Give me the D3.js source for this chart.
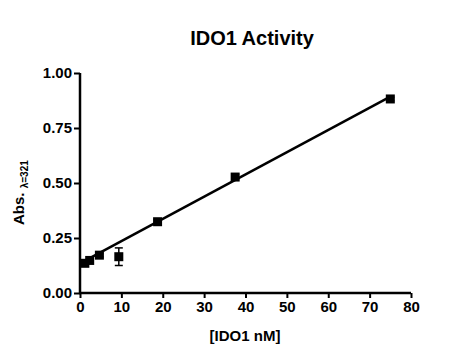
<!DOCTYPE html>
<html>
<head>
<meta charset="utf-8">
<script src="https://cdn.jsdelivr.net/npm/d3@7"></script>
<style>
  html, body { margin: 0; padding: 0; background: #fff; }
  text { font-family: "Liberation Sans", Arial, Helvetica, sans-serif; font-weight: bold; fill: #000; }
</style>
</head>
<body>
<svg id="chart" width="450" height="360"></svg>
<script>
// Data
const concentrations = [1.17, 2.34, 4.69, 9.38, 18.75, 37.5, 75];   // [IDO1 nM]
const absorbance     = [0.135, 0.148, 0.172, 0.165, 0.324, 0.527, 0.882];
const errors         = [0.005, 0.005, 0.008, 0.040, 0.010, 0.012, 0.008];
const fitLine        = [0.135, 0.0101];   // intercept, slope (linear fit)
const fitRange       = [0, 75];
const xTicks         = [0, 10, 20, 30, 40, 50, 60, 70, 80];
const yTicks         = [0, 0.25, 0.5, 0.75, 1.0];

const svg = d3.select("#chart");
const x = d3.scaleLinear().domain([0, 80]).range([80, 411]);
const y = d3.scaleLinear().domain([0, 1]).range([293, 73]);

// Title
svg.append("text").attr("x", 252).attr("y", 45).attr("text-anchor", "middle")
  .style("font-size", "20px").text("IDO1 Activity");

// Y axis
const yAxis = svg.append("g").attr("transform", "translate(80,0)")
  .call(d3.axisLeft(y).tickValues(yTicks).tickFormat(d3.format(".2f")).tickSize(6).tickSizeOuter(0).tickPadding(2));
yAxis.select(".domain").attr("stroke-width", 2.5).attr("d", "M0,73V294");
yAxis.selectAll(".tick line").attr("stroke-width", 2);
yAxis.selectAll(".tick text").style("font-size", "15px").style("font-family", "Liberation Sans, Arial, sans-serif").style("font-weight", "bold");

// X axis
const xAxis = svg.append("g").attr("transform", "translate(0,293)")
  .call(d3.axisBottom(x).tickValues(xTicks).tickFormat(d3.format("d")).tickSize(5).tickSizeOuter(0).tickPadding(3));
xAxis.select(".domain").attr("stroke-width", 2.5).attr("d", "M79,0H411");
xAxis.selectAll(".tick line").attr("stroke-width", 2);
xAxis.selectAll(".tick text").style("font-size", "15px").style("font-family", "Liberation Sans, Arial, sans-serif").style("font-weight", "bold");

// Axis labels
svg.append("text").attr("x", 245).attr("y", 341).attr("text-anchor", "middle")
  .style("font-size", "15px").text("[IDO1 nM]");

const yl = svg.append("text").attr("transform", "translate(24,225) rotate(-90)")
  .attr("text-anchor", "start").style("font-size", "15px");
yl.append("tspan").text("Abs. ");
yl.append("tspan").attr("dy", 4).style("font-size", "10px").text("λ=321");

// Fit line
svg.append("line")
  .attr("x1", x(fitRange[0])).attr("y1", y(fitLine[0] + fitLine[1] * fitRange[0]))
  .attr("x2", x(fitRange[1])).attr("y2", y(fitLine[0] + fitLine[1] * fitRange[1]))
  .attr("stroke", "#000").attr("stroke-width", 2.5);

const pts = concentrations.map((c, i) => ({ c, a: absorbance[i], e: errors[i] }));

// Error bars
const eb = svg.append("g");
pts.forEach(p => {
  eb.append("line").attr("x1", x(p.c)).attr("x2", x(p.c))
    .attr("y1", y(p.a - p.e)).attr("y2", y(p.a + p.e)).attr("stroke", "#000").attr("stroke-width", 1.5);
  [p.a - p.e, p.a + p.e].forEach(v => {
    eb.append("line").attr("x1", x(p.c) - 4).attr("x2", x(p.c) + 4)
      .attr("y1", y(v)).attr("y2", y(v)).attr("stroke", "#000").attr("stroke-width", 1.5);
  });
});

// Markers
svg.append("g").selectAll("rect").data(pts).join("rect")
  .attr("x", d => x(d.c) - 4.5).attr("y", d => y(d.a) - 4.5)
  .attr("width", 9).attr("height", 9).attr("fill", "#000");
</script>
</body>
</html>
